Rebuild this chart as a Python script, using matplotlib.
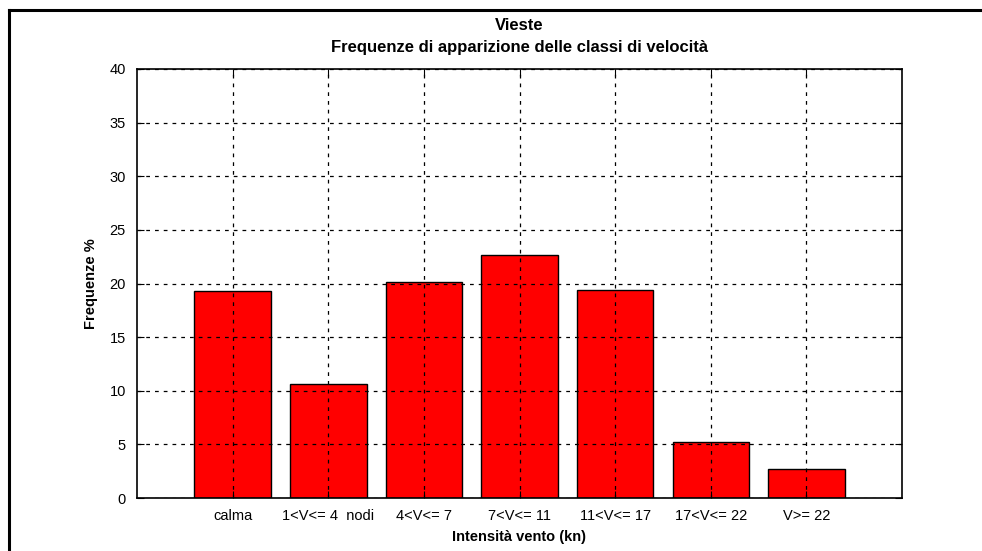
import numpy as np
import matplotlib.pyplot as plt
from matplotlib.lines import Line2D

plt.rcParams['font.family'] = ['Liberation Sans', 'DejaVu Sans']

classes = ["calma", "1<V<= 4  nodi", "4<V<= 7", "7<V<= 11",
           "11<V<= 17", "17<V<= 22", "V>= 22"]
freq = [19.3, 10.6, 20.1, 22.65, 19.4, 5.2, 2.67]

fig = plt.figure(figsize=(9.82, 5.51), dpi=100)
ax = fig.add_axes([137/982, 1 - 498/551, (902-137)/982, (498-69)/551])

x = np.arange(1, len(classes) + 1)
ax.bar(x, freq, width=0.8, color='#ff0000', edgecolor='black', linewidth=1, zorder=1)

ax.set_xlim(0, 8)
ax.set_ylim(0, 40)
ax.set_xticks(x)
ax.set_xticklabels(classes)
ax.set_yticks(np.arange(0, 41, 5))
ax.grid(True, color='black', linestyle=(0, (3, 4)), linewidth=0.9, zorder=3)
ax.set_axisbelow(False)
ax.tick_params(direction='in', top=True, right=True, length=5, labelsize=10.5, pad=8)
for sp in ax.spines.values():
    sp.set_linewidth(1.2)
    sp.set_zorder(4)

ax.set_xlabel("Intensità vento (kn)", fontsize=10.5, fontweight='bold', labelpad=5)
ax.set_ylabel("Frequenze %", fontsize=10.5, fontweight='bold', labelpad=8)
ax.set_title("Vieste\nFrequenze di apparizione delle classi di velocità",
             fontsize=12, fontweight='bold', pad=12, linespacing=1.6)

# outer frame lines (top and left)
fig.add_artist(Line2D([9/982, 1], [1 - 9.5/551, 1 - 9.5/551], color='black', linewidth=2.2))
fig.add_artist(Line2D([9/982, 9/982], [0, 1 - 9.5/551], color='black', linewidth=2.2))

fig.savefig("out.png", dpi=100)
